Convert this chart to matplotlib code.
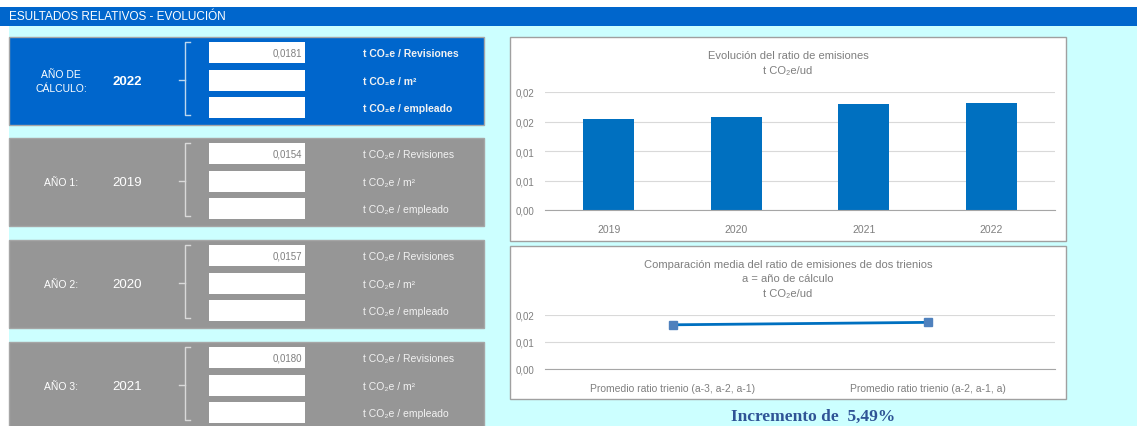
#!/usr/bin/env python

import matplotlib
matplotlib.use("Agg")
import matplotlib.pyplot as plt
from matplotlib.patches import Rectangle

W, H = 1137, 427

# data
panel_labels = ["AÑO DE\nCÁLCULO:", "AÑO 1:", "AÑO 2:", "AÑO 3:"]
panel_years = ["2022", "2019", "2020", "2021"]
panel_values = ["0,0181", "0,0154", "0,0157", "0,0180"]
units = ["t CO₂e / Revisiones", "t CO₂e / m²", "t CO₂e / empleado"]

years = ["2019", "2020", "2021", "2022"]
ratios = [0.0154, 0.0157, 0.0180, 0.0181]
bar_yticks = [0.0, 0.005, 0.01, 0.015, 0.02]
bar_ytick_labels = ["0,00", "0,01", "0,01", "0,02", "0,02"]

trienios = ["Promedio ratio trienio (a-3, a-2, a-1)", "Promedio ratio trienio (a-2, a-1, a)"]
trienio_means = [0.01637, 0.01727]
line_yticks = [0.0, 0.01, 0.02]
line_ytick_labels = ["0,00", "0,01", "0,02"]

increment = "Incremento de  5,49%"

NARROW = ["Liberation Sans Narrow", "Liberation Sans", "DejaVu Sans"]
BLUE = "#0066CC"
GRAY_PANEL = "#969696"
CYAN = "#CCFFFF"
TXT_GRAY = "#7F7F7F"


def px(x0, y0, x1, y1):
    return [x0 / W, 1 - y1 / H, (x1 - x0) / W, (y1 - y0) / H]


def main():
    fig = plt.figure(figsize=(W / 100, H / 100), dpi=100)
    fig.patch.set_facecolor("white")

    bg = fig.add_axes([0, 0, 1, 1])
    bg.set_xlim(0, W)
    bg.set_ylim(H, 0)
    bg.axis("off")

    # background and header bar
    bg.add_patch(Rectangle((9, 27), W - 9, H - 27, color=CYAN, lw=0))
    bg.add_patch(Rectangle((0, 8), W, 19, color=BLUE, lw=0))
    bg.text(9, 17.5, "ESULTADOS RELATIVOS - EVOLUCIÓN", color="white",
            fontsize=8.5, family=NARROW, ha="left", va="center")

    # left input panels
    tops = [38, 139, 241, 343]
    for i, top in enumerate(tops):
        fc = BLUE if i == 0 else GRAY_PANEL
        bg.add_patch(Rectangle((9, top), 475, 88, facecolor=fc,
                               edgecolor="#A6A6A6", lw=1))
        cy = top + 44
        bg.text(61, cy, panel_labels[i], color="white", fontsize=7.5,
                family=NARROW, ha="center", va="center", linespacing=1.5)
        bg.text(127, cy, panel_years[i], color="white", fontsize=9.5,
                family=NARROW, ha="center", va="center",
                fontweight="bold" if i == 0 else "normal")
        # brace
        bc = "#BDD7EE" if i == 0 else "#D9D9D9"
        bg.plot([190, 185, 185, 190], [top + 5, top + 5, top + 78, top + 78],
                color=bc, lw=1)
        bg.plot([179, 185], [cy - 1, cy - 1], color=bc, lw=1)
        for k, off in enumerate([5, 33, 60]):
            bg.add_patch(Rectangle((209, top + off), 96, 21, color="white", lw=0))
            bg.text(363, top + off + 11, units[k], color="#F2F2F2",
                    fontsize=7.5, family=NARROW, ha="left", va="center",
                    fontweight="bold" if i == 0 else "normal")
        bg.text(302, top + 16, panel_values[i], color=TXT_GRAY, fontsize=7,
                family=NARROW, ha="right", va="center")

    # chart frames
    bg.add_patch(Rectangle((510, 38), 556, 204, facecolor="white",
                           edgecolor="#A0A0A0", lw=1))
    bg.add_patch(Rectangle((510, 247), 556, 153, facecolor="white",
                           edgecolor="#A0A0A0", lw=1))

    bg.text(788, 56, "Evolución del ratio de emisiones", color=TXT_GRAY,
            fontsize=8, family=NARROW, ha="center", va="center")
    bg.text(788, 71, "t CO₂e/ud", color=TXT_GRAY, fontsize=8,
            family=NARROW, ha="center", va="center")
    bg.text(788, 265, "Comparación media del ratio de emisiones de dos trienios",
            color=TXT_GRAY, fontsize=8, family=NARROW, ha="center", va="center")
    bg.text(788, 279, "a = año de cálculo", color=TXT_GRAY, fontsize=8,
            family=NARROW, ha="center", va="center")
    bg.text(788, 294, "t CO₂e/ud", color=TXT_GRAY, fontsize=8,
            family=NARROW, ha="center", va="center")

    bg.text(813, 421, increment, color="#2F5496", fontsize=12.5,
            family=["Liberation Serif", "DejaVu Serif"], fontweight="bold",
            ha="center", va="baseline")

    # bar chart
    ax1 = fig.add_axes(px(545, 93, 1055, 211))
    x = range(len(years))
    ax1.bar(x, ratios, width=0.4, color="#0070C0", zorder=3)
    ax1.set_xlim(-0.5, len(years) - 0.5)
    ax1.set_ylim(0, 0.02)
    ax1.set_xticks(list(x))
    ax1.set_xticklabels(years)
    ax1.set_yticks(bar_yticks)
    ax1.set_yticklabels(bar_ytick_labels)

    # line chart
    ax2 = fig.add_axes(px(545, 316, 1055, 370))
    x2 = range(len(trienios))
    ax2.plot(x2, trienio_means, color="#0070C0", lw=2, marker="s",
             markersize=6, markerfacecolor="#4F81BD", markeredgecolor="#4F81BD",
             zorder=3)
    ax2.set_xlim(-0.5, len(trienios) - 0.5)
    ax2.set_ylim(0, 0.02)
    ax2.set_xticks(list(x2))
    ax2.set_xticklabels(trienios)
    ax2.set_yticks(line_yticks)
    ax2.set_yticklabels(line_ytick_labels)

    for ax in [ax1, ax2]:
        ax.set_facecolor("none")
        for s in ["top", "right", "left"]:
            ax.spines[s].set_visible(False)
        ax.spines["bottom"].set_color("#A6A6A6")
        ax.spines["bottom"].set_zorder(4)
        ax.grid(axis="y", color="#D9D9D9", lw=0.8, zorder=0)
        ax.tick_params(length=0, colors=TXT_GRAY, labelsize=7)
        ax.tick_params(axis="x", pad=10)
        ax.tick_params(axis="y", pad=8)
        for lab in ax.get_xticklabels() + ax.get_yticklabels():
            lab.set_family(NARROW)
            lab.set_fontsize(7.5 if lab in ax.get_xticklabels() else 7)

    fig.savefig("out.png", dpi=100)


if __name__ == "__main__":
    main()
